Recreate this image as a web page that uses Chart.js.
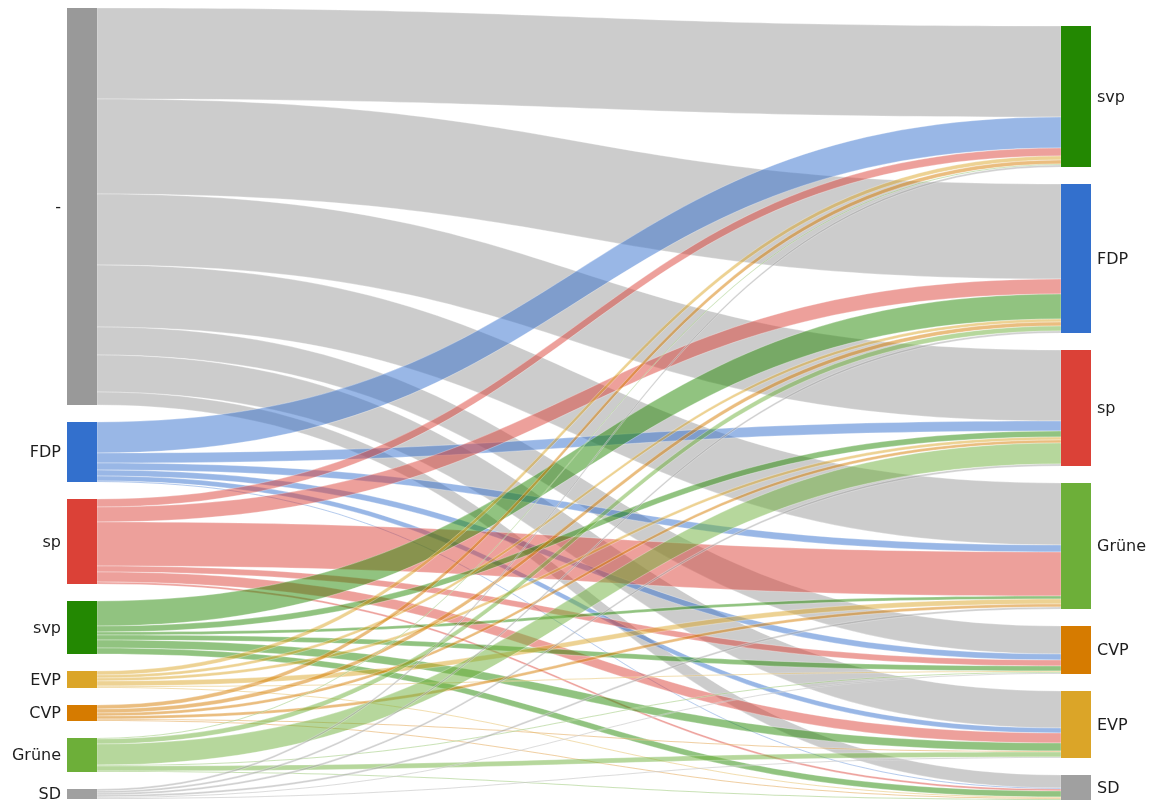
<!DOCTYPE html>
<html>
<head>
<meta charset="utf-8">
<script src="https://cdn.jsdelivr.net/npm/chart.js@4.4.1/dist/chart.umd.min.js"></script>
<style>
  body { margin: 0; background: #fff; }
</style>
</head>
<body>
<canvas id="sankey" width="1154" height="806"></canvas>
<script>
// nodes on each side
const sources = ['-', 'FDP', 'sp', 'svp', 'EVP', 'CVP', 'Grüne', 'SD'];
const targets = ['svp', 'FDP', 'sp', 'Grüne', 'CVP', 'EVP', 'SD'];

// flows, one array per source, in the order of targets
const fromNone   = [91, 95, 71, 62, 28, 37, 13];
const fromFDP    = [31, 0, 10, 7, 6, 5, 1];
const fromSP     = [8, 15, 0, 44, 6, 10, 2];
const fromSVP    = [0, 25, 6, 3, 5, 8, 6];
const fromEVP    = [4, 3, 3, 5, 1, 0, 1];
const fromCVP    = [4, 4, 3, 3, 0, 1, 1];
const fromGruene = [1, 5, 21, 0, 1, 5, 1];
const fromSD     = [2, 2, 2, 2, 1, 1, 0];
const flows = [fromNone, fromFDP, fromSP, fromSVP, fromEVP, fromCVP, fromGruene, fromSD];

const partyColors = {
  '-': [153, 153, 153],
  'FDP': [51, 112, 205],
  'sp': [219, 65, 55],
  'svp': [35, 136, 2],
  'EVP': [219, 165, 40],
  'CVP': [214, 123, 0],
  'Grüne': [109, 175, 57],
  'SD': [160, 160, 160]
};

const gap = 17;
const nodeWidth = 30;

function sum(a) { return a.reduce((s, v) => s + v, 0); }

let srcTotals = flows.map(sum);
let tgtTotals = targets.map((t, j) => sum(flows.map(r => r[j])));
let leftSpan = sum(srcTotals) + gap * (sources.length - 1);
let rightSpan = sum(tgtTotals) + gap * (targets.length - 1);
let yMax = Math.max(leftSpan, rightSpan) + 1;

// node tops in value units (right column sits at the bottom)
let srcTop = [], tgtTop = [];
let acc = 0;
srcTotals.forEach((v, i) => { srcTop.push(acc); acc += v + gap; });
acc = yMax - rightSpan;
tgtTotals.forEach((v, j) => { tgtTop.push(acc); acc += v + gap; });

function rgba(c, a) { return 'rgba(' + c[0] + ',' + c[1] + ',' + c[2] + ',' + a + ')'; }

const sankeyPlugin = {
  id: 'sankey',
  afterDatasetsDraw(chart) {
    const ctx = chart.ctx;
    const xs = chart.scales.x, ys = chart.scales.y;
    const xLeft = xs.getPixelForValue(0);
    const xRight = xs.getPixelForValue(1);
    const x0 = xLeft + nodeWidth, x1 = xRight - nodeWidth;
    const xm = (x0 + x1) / 2;

    // links
    let tgtOff = tgtTop.slice();
    ctx.save();
    flows.forEach((row, i) => {
      let off = srcTop[i];
      row.forEach((v, j) => {
        if (!v) return;
        const a0 = ys.getPixelForValue(off), a1 = ys.getPixelForValue(off + v);
        const b0 = ys.getPixelForValue(tgtOff[j]), b1 = ys.getPixelForValue(tgtOff[j] + v);
        off += v;
        tgtOff[j] += v;
        ctx.beginPath();
        ctx.moveTo(x0, a0);
        ctx.bezierCurveTo(xm, a0, xm, b0, x1, b0);
        ctx.lineTo(x1, b1);
        ctx.bezierCurveTo(xm, b1, xm, a1, x0, a1);
        ctx.closePath();
        ctx.fillStyle = rgba(partyColors[sources[i]], 0.5);
        ctx.fill();
        ctx.lineWidth = 0.5;
        ctx.strokeStyle = 'rgba(255,255,255,0.6)';
        ctx.stroke();
      });
    });

    // nodes
    sources.forEach((n, i) => {
      const t = ys.getPixelForValue(srcTop[i]), b = ys.getPixelForValue(srcTop[i] + srcTotals[i]);
      ctx.fillStyle = rgba(partyColors[n], 1);
      ctx.fillRect(xLeft, t, nodeWidth, b - t);
    });
    targets.forEach((n, j) => {
      const t = ys.getPixelForValue(tgtTop[j]), b = ys.getPixelForValue(tgtTop[j] + tgtTotals[j]);
      ctx.fillStyle = rgba(partyColors[n], 1);
      ctx.fillRect(x1, t, nodeWidth, b - t);
    });

    // labels
    ctx.font = '16px "DejaVu Sans"';
    ctx.fillStyle = '#1e1e1e';
    ctx.textBaseline = 'middle';
    ctx.textAlign = 'right';
    sources.forEach((n, i) => {
      ctx.fillText(n, xLeft - 6, ys.getPixelForValue(srcTop[i] + srcTotals[i] / 2) + 1);
    });
    ctx.textAlign = 'left';
    targets.forEach((n, j) => {
      ctx.fillText(n, xRight + 6, ys.getPixelForValue(tgtTop[j] + tgtTotals[j] / 2) + 1);
    });
    ctx.restore();
  }
};

new Chart(document.getElementById('sankey'), {
  type: 'scatter',
  data: { datasets: [] },
  options: {
    responsive: false,
    animation: false,
    layout: { padding: { left: 67, right: 63, top: 8, bottom: 6 } },
    plugins: { legend: { display: false }, tooltip: { enabled: false } },
    scales: {
      x: { type: 'linear', min: 0, max: 1, display: false },
      y: { type: 'linear', min: 0, max: yMax, reverse: true, display: false }
    }
  },
  plugins: [sankeyPlugin]
});
</script>
</body>
</html>
